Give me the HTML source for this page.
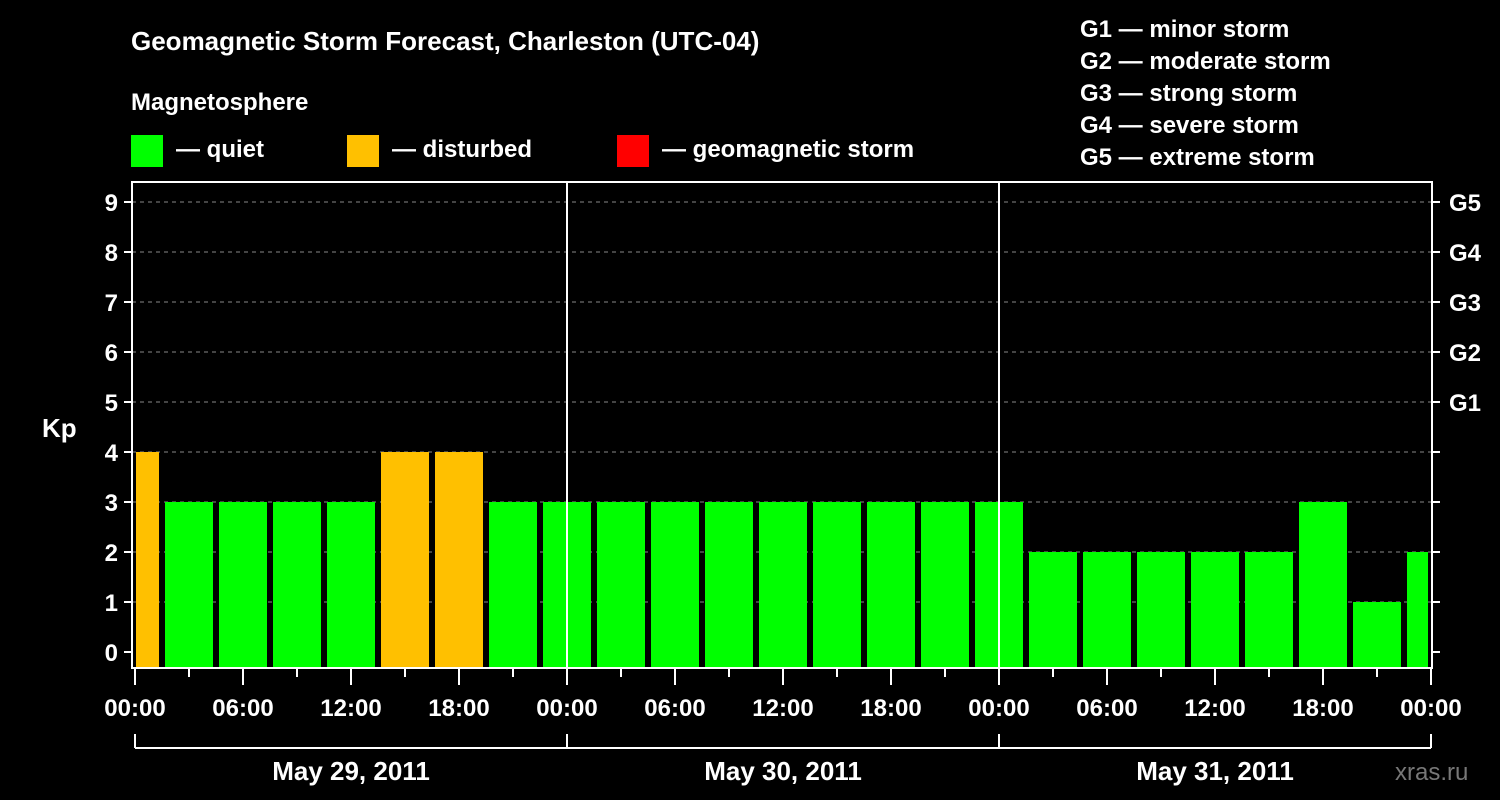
<!DOCTYPE html>
<html><head><meta charset="utf-8"><style>
body{margin:0;background:#000;}
svg{display:block;font-family:"Liberation Sans",Arial,sans-serif;font-weight:bold;}
</style></head><body>
<svg id="c" width="1500" height="800" viewBox="0 0 1500 800">
<rect width="1500" height="800" fill="#000"/>
<text x="131" y="50" fill="#fff" font-size="26">Geomagnetic Storm Forecast, Charleston (UTC-04)</text>
<text x="131" y="110" fill="#fff" font-size="24">Magnetosphere</text>
<g><rect x="131" y="135" width="32" height="32" fill="#00ff00"/><text x="176" y="157" fill="#fff" font-size="24">— quiet</text></g>
<g><rect x="347" y="135" width="32" height="32" fill="#ffc000"/><text x="392" y="157" fill="#fff" font-size="24">— disturbed</text></g>
<g><rect x="617" y="135" width="32" height="32" fill="#ff0000"/><text x="662" y="157" fill="#fff" font-size="24">— geomagnetic storm</text></g>
<g fill="#fff" font-size="24">
<text x="1080" y="37">G1 — minor storm</text>
<text x="1080" y="69">G2 — moderate storm</text>
<text x="1080" y="101">G3 — strong storm</text>
<text x="1080" y="133">G4 — severe storm</text>
<text x="1080" y="165">G5 — extreme storm</text>
</g>
<text x="42" y="437" fill="#fff" font-size="26">Kp</text>
<text x="1395" y="780" fill="#777" font-size="24" font-weight="normal">xras.ru</text>
<g id="grid"></g><g id="bars"></g><g id="axes"></g>
</svg>
<script>
const kpValues=[4,3,3,3,3,4,4,3,3,3,3,3,3,3,3,3,3,2,2,2,2,2,3,1,2];
const dayLabels=["May 29, 2011","May 30, 2011","May 31, 2011"];
const yTicks=[0,1,2,3,4,5,6,7,8,9];
const gLabels=["G1","G2","G3","G4","G5"];
const timeLabels=["00:00","06:00","12:00","18:00"];
const NS="http://www.w3.org/2000/svg";
const X0=135,PXH=18,L=132,R=1432,T=182,B=668;
const xs=h=>X0+h*PXH;
const ys=v=>652-50*v;
function mk(t,a,p,txt){const e=document.createElementNS(NS,t);for(const k in a)e.setAttribute(k,a[k]);if(txt!==undefined)e.textContent=txt;p.appendChild(e);return e;}
const grid=document.getElementById('grid'),bars=document.getElementById('bars'),axes=document.getElementById('axes');
yTicks.forEach(v=>{
 if(v>=1){const gl=mk('line',{x1:L,x2:R,y1:ys(v),y2:ys(v),stroke:'#888','stroke-dasharray':'4,4','stroke-width':1},grid);
 
 }
 mk('line',{x1:L-8,x2:L,y1:ys(v),y2:ys(v),stroke:'#fff','stroke-width':2},axes);
 mk('line',{x1:R,x2:R+8,y1:ys(v),y2:ys(v),stroke:'#fff','stroke-width':2},axes);
 const t=mk('text',{x:L-14,y:ys(v)+9,fill:'#fff','font-size':24,'text-anchor':'end'},axes,String(v));
 
 
});
gLabels.forEach((g,i)=>{const t=mk('text',{x:R+17,y:ys(5+i)+9,fill:'#fff','font-size':24},axes,g);
 
 });
kpValues.forEach((v,i)=>{
 const c=-1.5+3*i+1.5; // center hour offset
 let x1=xs(c-1.5)+3,x2=xs(c+1.5)-3;
 x1=Math.max(x1,L+4);x2=Math.min(x2,R-4);
 const col=v>=5?'#ff0000':(v>=4?'#ffc000':'#00ff00');
 const r=mk('rect',{x:x1,y:ys(v),width:x2-x1,height:B-ys(v),fill:col},bars);
 
 
});
mk('rect',{x:L,y:T,width:R-L,height:B-T,fill:'none',stroke:'#fff','stroke-width':2},axes);
[1,2].forEach(d=>mk('line',{x1:xs(24*d),x2:xs(24*d),y1:T,y2:B,stroke:'#fff','stroke-width':2},axes));
for(let h=0;h<=72;h+=3){const maj=h%6===0;mk('line',{x1:xs(h),x2:xs(h),y1:B,y2:B+(maj?17:9),stroke:'#fff','stroke-width':2},axes);
 if(maj&&(h%24!==0||true)&&h%6===0){const lab=timeLabels[(h%24)/6];const t=mk('text',{x:xs(h),y:716,fill:'#fff','font-size':24,'text-anchor':'middle'},axes,lab);
 
 }}
mk('line',{x1:xs(0),x2:xs(72),y1:748,y2:748,stroke:'#fff','stroke-width':2},axes);
[0,1,2,3].forEach(d=>mk('line',{x1:xs(24*d),x2:xs(24*d),y1:734,y2:748,stroke:'#fff','stroke-width':2},axes));
dayLabels.forEach((d,i)=>{const t=mk('text',{x:xs(24*i+12),y:780,fill:'#fff','font-size':26,'text-anchor':'middle'},axes,d);
 
 });
</script>
</body></html>
